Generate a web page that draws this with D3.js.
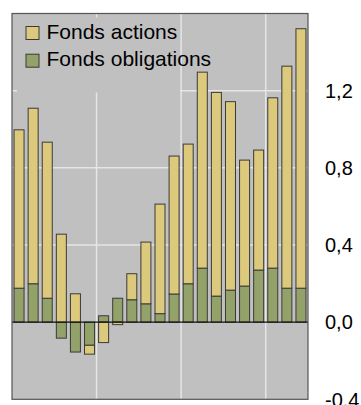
<!DOCTYPE html>
<html>
<head>
<meta charset="utf-8">
<script src="https://cdn.jsdelivr.net/npm/d3@7"></script>
<style>
  html, body { margin: 0; padding: 0; background: #ffffff; }
  svg { display: block; }
  text { font-family: "Liberation Sans", Arial, sans-serif; fill: #000; }
</style>
</head>
<body>
<svg id="chart" width="361" height="405"></svg>
<script>
// Periods (21 consecutive observations)
const periods = d3.range(1, 22).map(i => "P" + i);

// Net flows, bond funds
const fondsObligations = [0.176, 0.199, 0.124, -0.083, -0.155, -0.120, 0.033, 0.124, 0.116, 0.095, 0.044,
                          0.146, 0.199, 0.280, 0.135, 0.166, 0.187, 0.270, 0.280, 0.176, 0.176];
// Net flows, equity funds
const fondsActions = [0.821, 0.910, 0.809, 0.456, 0.147, -0.046, -0.106, -0.013, 0.135, 0.320, 0.568,
                      0.715, 0.724, 1.016, 1.056, 0.977, 0.653, 0.622, 0.883, 1.151, 1.345];

const seriesNames = ["Fonds obligations", "Fonds actions"];
const seriesColors = ["#93a269", "#dcc97c"];
const yTicks = [-0.4, 0, 0.4, 0.8, 1.2];
const yDomain = [-0.4, 1.6];

const rows = periods.map((p, i) => ({
  period: p,
  "Fonds obligations": fondsObligations[i],
  "Fonds actions": fondsActions[i]
}));

const svg = d3.select("#chart");
const plot = { left: 12, right: 308, top: 13.5, bottom: 399.3 };

const x = d3.scaleBand()
  .domain(periods)
  .range([plot.left, plot.right])
  .paddingInner(0.29)
  .paddingOuter(0.145);

const y = d3.scaleLinear().domain(yDomain).range([plot.bottom, plot.top]);

// Plot background
svg.append("rect")
  .attr("x", plot.left).attr("y", plot.top)
  .attr("width", plot.right - plot.left).attr("height", plot.bottom - plot.top)
  .attr("fill", "#c0c0c0");

// Grid lines
const grid = svg.append("g");
grid.selectAll("line.h")
  .data(yTicks.filter(t => t > yDomain[0] && t !== 0))
  .join("line")
  .attr("x1", plot.left).attr("x2", plot.right)
  .attr("y1", d => y(d)).attr("y2", d => y(d))
  .attr("stroke", "#e6e6e6").attr("stroke-width", 1.5);

const step = x.step();
grid.selectAll("line.v")
  .data([6, 12, 18])
  .join("line")
  .attr("x1", d => plot.left + d * step).attr("x2", d => plot.left + d * step)
  .attr("y1", plot.top).attr("y2", plot.bottom)
  .attr("stroke", "#e6e6e6").attr("stroke-width", 1.5);

// Legend panel sits over the grid
const legend = svg.append("g");
legend.append("rect")
  .attr("x", 17).attr("y", 17.5).attr("width", 163).attr("height", 75)
  .attr("fill", "#c0c0c0");

// Diverging stack: bonds next to zero, equities stacked beyond
const stacked = d3.stack()
  .keys(seriesNames)
  .offset(d3.stackOffsetDiverging)(rows);

svg.append("g")
  .selectAll("g")
  .data(stacked)
  .join("g")
  .attr("fill", (d, i) => seriesColors[i])
  .selectAll("rect")
  .data(d => d)
  .join("rect")
  .attr("x", d => x(d.data.period))
  .attr("width", x.bandwidth())
  .attr("y", d => y(Math.max(d[0], d[1])))
  .attr("height", d => Math.abs(y(d[0]) - y(d[1])))
  .attr("stroke", "#3a3a3a")
  .attr("stroke-width", 1);

// Zero line
svg.append("line")
  .attr("x1", plot.left).attr("x2", plot.right)
  .attr("y1", y(0)).attr("y2", y(0))
  .attr("stroke", "#111").attr("stroke-width", 1.2);

// Plot frame
svg.append("rect")
  .attr("x", plot.left).attr("y", plot.top)
  .attr("width", plot.right - plot.left).attr("height", plot.bottom - plot.top)
  .attr("fill", "none").attr("stroke", "#555").attr("stroke-width", 1.2);

// Right-hand value axis
const fmt = d => d3.format(".1f")(d).replace(".", ",").replace("\u2212", "-");
svg.append("g")
  .selectAll("text")
  .data(yTicks)
  .join("text")
  .attr("x", 325)
  .attr("y", d => y(d))
  .attr("dy", "0.36em")
  .attr("font-size", 20)
  .text(fmt);

// Legend entries (equities first)
const legendItems = [
  { name: "Fonds actions", color: seriesColors[1] },
  { name: "Fonds obligations", color: seriesColors[0] }
];
const li = legend.selectAll("g.item")
  .data(legendItems)
  .join("g")
  .attr("transform", (d, i) => `translate(26,${26.5 + i * 27.7})`);
li.append("rect")
  .attr("width", 13).attr("height", 13)
  .attr("fill", d => d.color)
  .attr("stroke", "#3a3a3a").attr("stroke-width", 1);
li.append("text")
  .attr("x", 20.5).attr("y", 12)
  .attr("font-size", 21)
  .text(d => d.name);
</script>
</body>
</html>
